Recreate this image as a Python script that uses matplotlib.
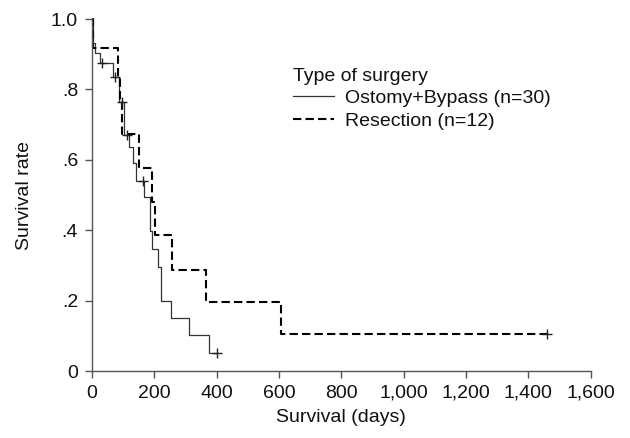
import matplotlib
matplotlib.use("Agg")
import matplotlib.pyplot as plt
import numpy as np

# Ostomy+Bypass (n=30): step times (days) and survival after each step
ob_times = [0, 2, 11, 25, 67, 87, 103, 118, 131, 140, 168, 185, 191, 212, 223, 255, 312, 375, 400]
ob_surv = [1.0, 0.931, 0.903, 0.874, 0.834, 0.765, 0.670, 0.635, 0.590, 0.541, 0.493, 0.399, 0.347,
           0.296, 0.200, 0.151, 0.102, 0.052, 0.052]
ob_cens_t = [32, 73, 96, 112, 164, 400]
ob_cens_s = [0.874, 0.834, 0.765, 0.670, 0.541, 0.052]

# Resection (n=12)
rs_times = [0, 3, 84, 89, 95, 151, 194, 201, 257, 367, 606, 1460]
rs_surv = [1.0, 0.917, 0.834, 0.765, 0.672, 0.576, 0.481, 0.386, 0.287, 0.197, 0.104, 0.104]
rs_cens_t = [1460]
rs_cens_s = [0.104]

x_ticks = [0, 200, 400, 600, 800, 1000, 1200, 1400, 1600]
x_labels = ["0", "200", "400", "600", "800", "1,000", "1,200", "1,400", "1,600"]
y_ticks = [0, 0.2, 0.4, 0.6, 0.8, 1.0]
y_labels = ["0", ".2", ".4", ".6", ".8", "1.0"]

plt.rcParams['font.family'] = ['Liberation Sans', 'DejaVu Sans']
FS = 14

fig = plt.figure(figsize=(6.3, 4.38), dpi=100)
ax = fig.add_axes([92 / 630, 1 - 371 / 438, (590.5 - 92) / 630, (371 - 19) / 438])

l1, = ax.step(ob_times, ob_surv, where='post', color='#333333', lw=0.9, clip_on=False,
              label='Ostomy+Bypass (n=30)')
l2, = ax.step(rs_times, rs_surv, where='post', color='black', lw=1.5, linestyle=(0, (4, 2)),
              clip_on=False, label='Resection (n=12)')
ax.plot(ob_cens_t, ob_cens_s, linestyle='none', marker='+', color='#222222', ms=7, mew=1.0, clip_on=False)
ax.plot(rs_cens_t, rs_cens_s, linestyle='none', marker='+', color='#222222', ms=7, mew=1.0, clip_on=False)

ax.set_xlim(0, 1600)
ax.set_ylim(0, 1.0)
ax.set_xticks(x_ticks)
ax.set_xticklabels(x_labels)
ax.set_yticks(y_ticks)
ax.set_yticklabels(y_labels)

for s in ['top', 'right']:
    ax.spines[s].set_visible(False)
for s in ['left', 'bottom']:
    ax.spines[s].set_color('#555555')
    ax.spines[s].set_linewidth(1.0)

ax.tick_params(axis='both', direction='out', length=5, width=1.0, color='#555555',
               labelsize=FS, pad=5, labelcolor='#111111')

ax.set_xlabel('Survival (days)', fontsize=FS, color='#111111', labelpad=5)
ax.set_ylabel('Survival rate', fontsize=FS, color='#111111', labelpad=13)

leg = ax.legend(handles=[l1, l2], title='Type of surgery', loc='upper left',
                bbox_to_anchor=(0.403, 0.862), frameon=False, fontsize=FS, title_fontsize=FS,
                alignment='left', handlelength=2.1, handletextpad=0.6, labelspacing=0.25,
                borderaxespad=0, borderpad=0)
for t in leg.get_texts():
    t.set_color('#111111')
leg.get_title().set_color('#111111')

fig.savefig('out.png', dpi=100)
